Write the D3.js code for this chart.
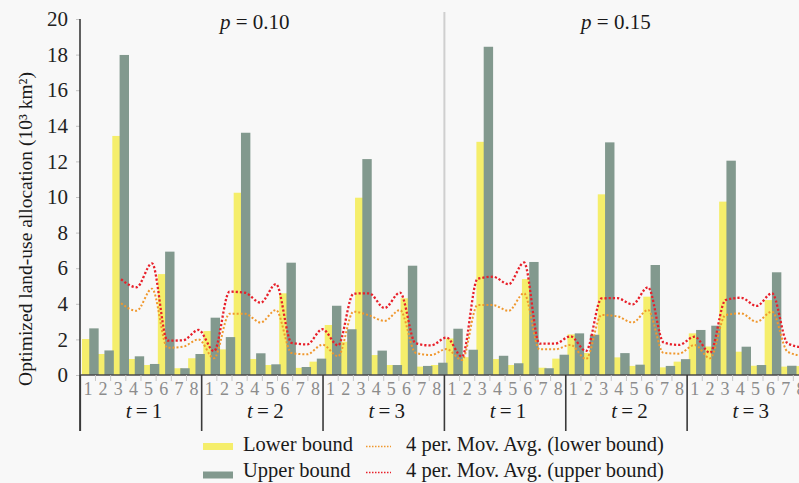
<!DOCTYPE html>
<html>
<head>
<meta charset="utf-8">
<script src="https://cdn.jsdelivr.net/npm/d3@7"></script>
<style>
  html, body { margin: 0; padding: 0; background: #f8f8f8; }
  svg { display: block; }
  text { font-family: "Liberation Serif", "Times New Roman", serif; }
</style>
</head>
<body>
<script>
// ---------------- DATA ----------------
const pLabels = ["0.10", "0.15"];
const tLabels = ["1", "2", "3"];
const landUse = ["1", "2", "3", "4", "5", "6", "7", "8"];
const yTicks = [0, 2, 4, 6, 8, 10, 12, 14, 16, 18, 20];

// Lower bound (yellow bars), 48 values: p=0.10 (t=1..3), then p=0.15 (t=1..3)
const lowerBound = [
  2.02, 1.18, 13.43, 0.90, 0.56, 5.67, 0.38, 0.94,
  2.47, 1.44, 10.24, 0.90, 0.56, 4.59, 0.40, 0.75,
  2.81, 1.87, 9.96, 1.12, 0.56, 4.31, 0.47, 0.56,
  2.05, 1.00, 13.10, 0.90, 0.56, 5.39, 0.41, 0.92,
  2.28, 1.24, 10.15, 0.99, 0.51, 4.40, 0.43, 0.75,
  2.34, 1.60, 9.74, 1.31, 0.52, 4.21, 0.47, 0.50
];
// Upper bound (grey bars)
const upperBound = [
  2.62, 1.38, 17.98, 1.05, 0.62, 6.93, 0.38, 1.18,
  3.22, 2.13, 13.61, 1.22, 0.60, 6.31, 0.45, 0.92,
  3.89, 2.57, 12.13, 1.37, 0.56, 6.14, 0.51, 0.69,
  2.60, 1.42, 18.44, 1.08, 0.66, 6.35, 0.38, 1.14,
  2.34, 2.26, 13.07, 1.23, 0.58, 6.18, 0.51, 0.89,
  2.53, 2.77, 12.04, 1.59, 0.56, 5.77, 0.52, 0.60
];
// 4 per. moving average trendlines (first 3 points undefined)
const maLower = [
  null, null, null, 4.03, 3.61, 4.85, 1.53, 1.59,
  2.00, 0.94, 3.44, 3.44, 2.95, 3.65, 1.24, 1.16,
  1.70, 1.05, 3.56, 3.35, 3.04, 3.65, 1.25, 1.12,
  1.46, 0.84, 3.93, 3.93, 3.60, 4.59, 1.44, 1.44,
  1.69, 0.90, 3.37, 3.30, 2.95, 3.65, 1.24, 1.20,
  1.69, 0.94, 3.37, 3.46, 2.99, 3.56, 1.31, 1.07
];
const maUpper = [
  null, null, null, 5.38, 4.93, 6.27, 1.93, 1.95,
  2.53, 1.34, 4.68, 4.62, 4.06, 5.11, 1.81, 1.72,
  2.57, 1.66, 4.57, 4.59, 3.76, 4.63, 1.78, 1.66,
  2.10, 1.03, 5.40, 5.52, 5.10, 6.32, 1.76, 1.76,
  2.17, 1.35, 4.30, 4.32, 3.97, 4.93, 1.83, 1.69,
  2.15, 1.25, 4.21, 4.34, 3.88, 4.59, 1.78, 1.55
];

// ---------------- LAYOUT ----------------
const W = 799, H = 483;
const colLower = "#f5ee6b", colUpper = "#82998e";
const colMaLower = "#f0982e", colMaUpper = "#e8202a";

const svg = d3.select("body").append("svg").attr("width", W).attr("height", H);
svg.append("rect").attr("width", W).attr("height", H).attr("fill", "#f8f8f8");

const nCat = lowerBound.length;
const idx = d3.range(nCat);
const x = d3.scaleBand().domain(idx).range([80.3, 808.5]).padding(0);
const bw = x.bandwidth();
const y = d3.scaleLinear().domain([0, 20]).range([375, 19]);
const y0 = y(0);
// trendline positions (Excel draws them shifted relative to the columns)
const xm = d3.scaleLinear().domain([0, nCat - 1]).range([x(0) - 0.38 * bw, x(nCat - 1) + 0.64 * bw]);

// divider between p panels
svg.append("line")
  .attr("x1", x(24)).attr("x2", x(24)).attr("y1", 12).attr("y2", y0)
  .attr("stroke", "#cfcfcf").attr("stroke-width", 2);

// bars
const plot = svg.append("g");
plot.selectAll("rect.lo").data(idx).join("rect").attr("class", "lo")
  .attr("x", i => x(i) + 0.11 * bw).attr("width", 0.62 * bw)
  .attr("y", i => y(lowerBound[i])).attr("height", i => y0 - y(lowerBound[i]))
  .attr("fill", colLower);
plot.selectAll("rect.up").data(idx).join("rect").attr("class", "up")
  .attr("x", i => x(i) + 0.59 * bw).attr("width", 0.62 * bw)
  .attr("y", i => y(upperBound[i])).attr("height", i => y0 - y(upperBound[i]))
  .attr("fill", colUpper);

// moving averages
const line = d3.line()
  .defined(d => d.v != null)
  .x(d => xm(d.i)).y(d => y(d.v))
  .curve(d3.curveMonotoneX);
svg.append("path").datum(idx.map(i => ({ i, v: maLower[i] })))
  .attr("d", line).attr("fill", "none").attr("stroke", colMaLower)
  .attr("stroke-width", 2).attr("stroke-dasharray", "2 2");
svg.append("path").datum(idx.map(i => ({ i, v: maUpper[i] })))
  .attr("d", line).attr("fill", "none").attr("stroke", colMaUpper)
  .attr("stroke-width", 2.3).attr("stroke-dasharray", "2.2 2");

// y axis
const yAxis = d3.axisLeft(y).tickValues(yTicks).tickSize(4).tickPadding(8);
const gy = svg.append("g").attr("transform", "translate(80,0)").call(yAxis);
gy.select(".domain").remove();
gy.selectAll(".tick line").attr("stroke", "#c4c4c4");
gy.selectAll(".tick text").attr("font-size", 21).attr("fill", "#222")
  .attr("font-family", "Liberation Serif, serif");
svg.append("line").attr("x1", 80).attr("x2", 80).attr("y1", 19).attr("y2", 431)
  .attr("stroke", "#3a3a3a").attr("stroke-width", 1.6);

// x axis line
svg.append("line").attr("x1", 80).attr("x2", W).attr("y1", y0).attr("y2", y0)
  .attr("stroke", "#4a4a4a").attr("stroke-width", 1.6);

// category ticks & labels
const catTicks = idx.filter(i => i % 8 !== 0);
svg.selectAll("line.ct").data(catTicks).join("line").attr("class", "ct")
  .attr("x1", i => x(i)).attr("x2", i => x(i)).attr("y1", y0).attr("y2", y0 + 6)
  .attr("stroke", "#c8c8c8").attr("stroke-width", 1);
svg.selectAll("text.cl").data(idx).join("text").attr("class", "cl")
  .attr("x", i => x(i) + bw / 2).attr("y", 391)
  .attr("text-anchor", "middle").attr("dominant-baseline", "middle")
  .attr("font-size", 18).attr("fill", "#8c8c8c")
  .text(i => landUse[i % 8]);

// group separators & labels
const groups = d3.range(pLabels.length * tLabels.length);
svg.selectAll("line.gs").data(d3.range(groups.length + 1)).join("line").attr("class", "gs")
  .attr("x1", g => x(g * 8) ?? x(nCat - 1) + bw).attr("x2", g => x(g * 8) ?? x(nCat - 1) + bw)
  .attr("y1", y0).attr("y2", 431)
  .attr("stroke", "#3a3a3a").attr("stroke-width", 1.6);
const gl = svg.selectAll("text.gl").data(groups).join("text").attr("class", "gl")
  .attr("x", g => x(g * 8) + 4 * bw + 3).attr("y", 413)
  .attr("text-anchor", "middle").attr("dominant-baseline", "middle")
  .attr("font-size", 21).attr("fill", "#1a1a1a");
gl.append("tspan").attr("font-style", "italic").text("t");
gl.append("tspan").text(g => "\u2009=\u2009" + tLabels[g % 3]);

// p labels
const pl = svg.selectAll("text.pl").data(pLabels).join("text").attr("class", "pl")
  .attr("x", (d, k) => x(k * 24 + 11) + bw / 2 + (k === 0 ? 0 : -3)).attr("y", 24)
  .attr("text-anchor", "middle").attr("dominant-baseline", "middle")
  .attr("font-size", 21).attr("fill", "#1a1a1a");
pl.append("tspan").attr("font-style", "italic").text("p");
pl.append("tspan").text(d => " = " + d);

// y axis title
svg.append("text")
  .attr("transform", "translate(28,229) rotate(-90)")
  .attr("text-anchor", "middle").attr("dominant-baseline", "middle")
  .attr("font-size", 19.5).attr("fill", "#1a1a1a")
  .text("Optimized land-use allocation (10\u00B3 km\u00B2)");

// legend
const leg = svg.append("g");
const legRows = [
  { sw: colLower, label: "Lower bound", ma: colMaLower, maLabel: "4 per. Mov. Avg. (lower bound)", yy: 446.5, sy: 446.5 },
  { sw: colUpper, label: "Upper bound", ma: colMaUpper, maLabel: "4 per. Mov. Avg. (upper bound)", yy: 472.5, sy: 475 }
];
legRows.forEach(r => {
  leg.append("rect").attr("x", 203).attr("y", r.sy - 3.5).attr("width", 30).attr("height", 7).attr("fill", r.sw);
  leg.append("text").attr("x", 243).attr("y", r.yy).attr("dominant-baseline", "middle")
    .attr("font-size", 20.5).attr("fill", "#1a1a1a").text(r.label);
  leg.append("line").attr("x1", 366).attr("x2", 391).attr("y1", r.yy).attr("y2", r.yy)
    .attr("stroke", r.ma).attr("stroke-width", 1.4).attr("stroke-dasharray", "1.5 1.5");
  leg.append("text").attr("x", 406).attr("y", r.yy).attr("dominant-baseline", "middle")
    .attr("font-size", 20.5).attr("fill", "#1a1a1a").text(r.maLabel);
});
</script>
</body>
</html>
